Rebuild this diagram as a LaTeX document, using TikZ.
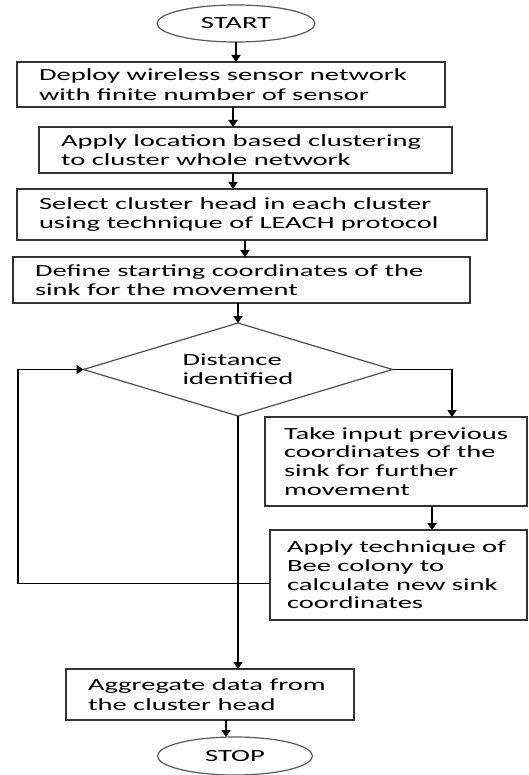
\documentclass[tikz,border=0pt]{standalone}
\usepackage{fontspec}
\setmainfont[FakeStretch=1.68]{Carlito}
\usetikzlibrary{positioning,shapes.geometric,arrows.meta}

\begin{document}
\begin{tikzpicture}[x=1pt, y=1pt]
    \tikzset{
      stepbox/.style = { draw = black!80, line width = 1.3pt, align = flush left, inner xsep = 22pt, inner ysep = 0pt,
                         outer sep = 0pt, font = \fontsize{17}{19.5}\selectfont },
      terminal/.style = { ellipse, draw = black!65, line width = 1.2pt, inner sep = 0pt, outer sep = 0pt,
                          font = \fontsize{17}{19.5}\selectfont },
      flow/.style = { line width = 1.8pt, -{Triangle[width = 9pt, length = 7pt]} },
    }
    \useasboundingbox (0,0) rectangle (528,-775);

    \node[terminal, minimum width=158pt, minimum height=37pt] (start) at (236,-23.5) {START};

    \node[stepbox, text width=384pt, minimum height=45pt, below=20pt of start, xshift=-5pt] (deploy box)
        {Deploy wireless sensor network\\with finite number of sensor};
    \node[stepbox, text width=369pt, minimum height=46pt, below=20pt of deploy box, xshift=14.5pt] (cluster box)
        {Apply location based clustering\\to cluster whole network};
    \node[stepbox, text width=426pt, minimum height=51pt, below=16pt of cluster box, xshift=6.5pt] (head box)
        {Select cluster head in each cluster\\using technique of LEACH protocol};
    \node[stepbox, text width=413pt, minimum height=46pt, below=17pt of head box, xshift=-10.5pt] (sink box)
        {Define starting coordinates of the\\sink for the movement};

    \node[diamond, shape aspect=3.3, draw=black!70, line width=1.2pt, minimum width=309pt, minimum height=93pt,
        inner sep=0pt, outer sep=0pt, align=left, font=\fontsize{17}{19}\selectfont,
        below=20pt of sink box, xshift=-3.5pt] (distance)
        {Distance\\identified};

    \node[stepbox, inner xsep=19pt, text width=224pt, minimum height=89pt, font=\fontsize{17}{18.7}\selectfont,
        below=1pt of distance, xshift=158pt] (previous box)
        {Take input previous\\coordinates of the\\sink for further\\movement};
    \node[stepbox, inner xsep=17pt, text width=223pt, minimum height=90pt, font=\fontsize{17}{18.7}\selectfont,
        below=24pt of previous box, xshift=2.5pt] (bee box)
        {Apply technique of\\Bee colony to\\calculate new sink\\coordinates};

    \node[stepbox, text width=244pt, minimum height=51pt, below=49pt of bee box, xshift=-188.5pt] (aggregate box)
        {Aggregate data from\\the cluster head};
    \node[terminal, minimum width=155pt, minimum height=38pt, below=17pt of aggregate box, xshift=25pt] (stop) {STOP};

    \foreach \from/\to/\dx in {start/deploy box/0pt, deploy box/cluster box/2pt, cluster box/head box/-12.5pt,
        head box/sink box/-7pt, sink box/distance/-3.5pt, previous box/bee box/36pt,
        distance/aggregate box/0pt, aggregate box/stop/16pt}
        \draw[flow] ([xshift=\dx]\from.south) coordinate (tail) -- (tail |- \to.north);

    \draw[flow] (distance.east) -| ([xshift=56pt]previous box.north);
    \draw[flow] ([yshift=-8.5pt]bee box.west) -- ++(-252pt,0) |- (distance.west);
\end{tikzpicture}
\end{document}
